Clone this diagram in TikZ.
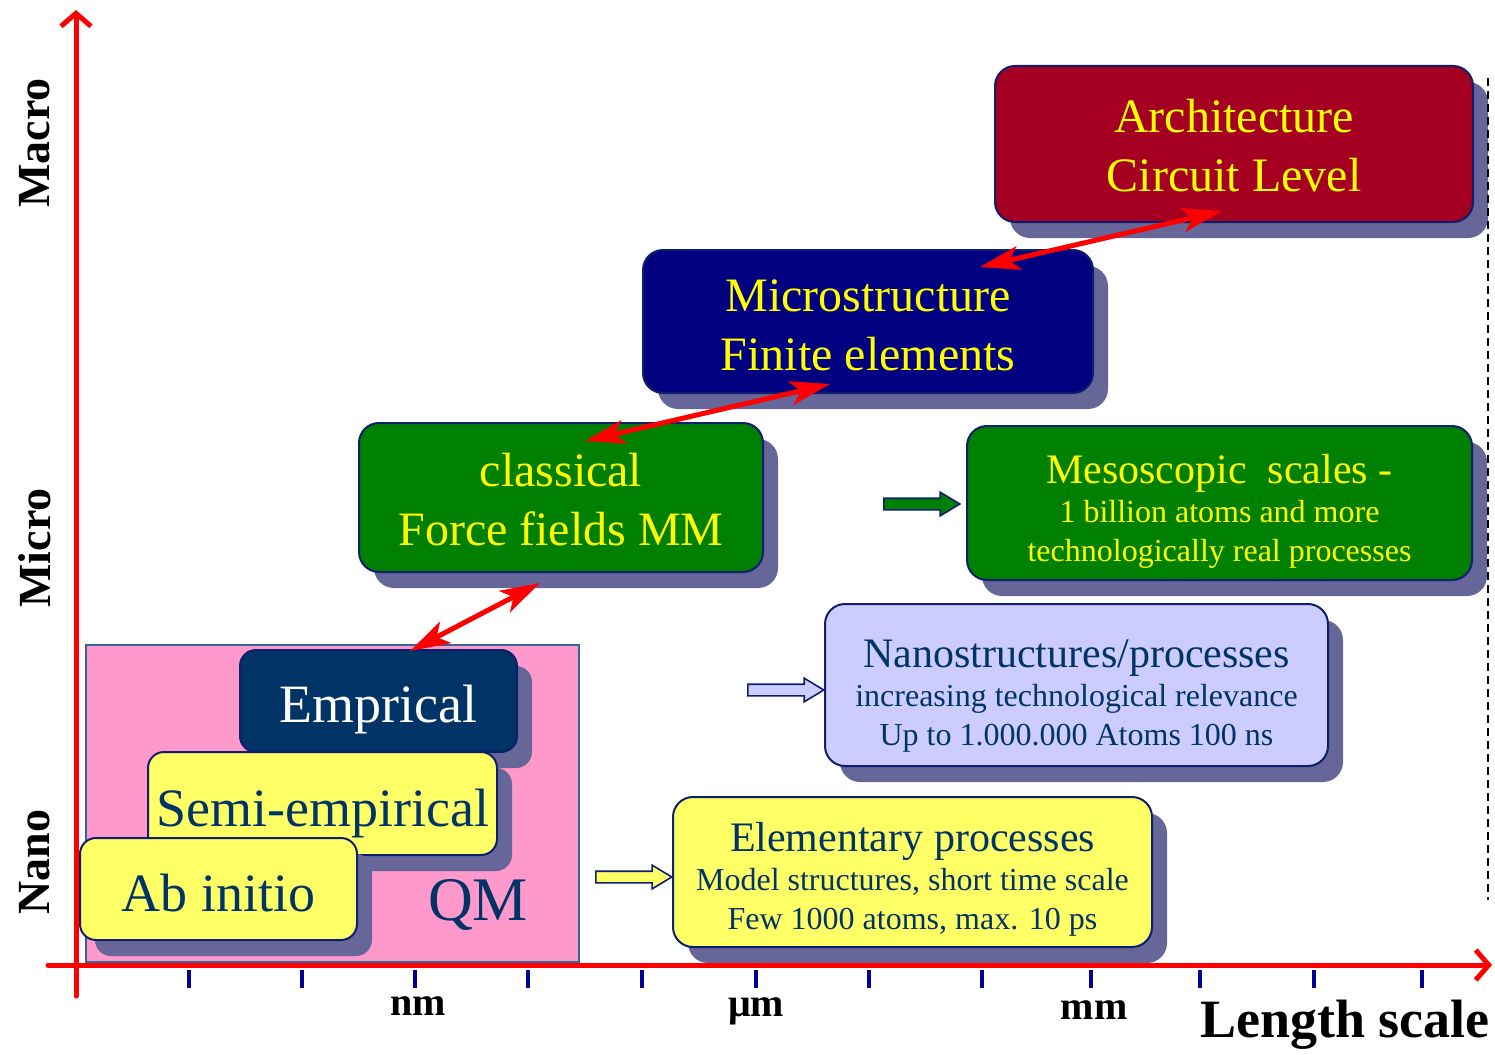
\documentclass[tikz,border=0pt]{standalone}
\usepackage{fontspec}
\setmainfont{Liberation Serif}
\usetikzlibrary{shapes.arrows,shadows,arrows.meta}

\definecolor{archred}{HTML}{A50021}
\definecolor{micronavy}{HTML}{000080}
\definecolor{ffgreen}{HTML}{008000}
\definecolor{lavender}{HTML}{CCCCFF}
\definecolor{paleyellow}{HTML}{FFFF66}
\definecolor{qmpink}{HTML}{FF99CC}
\definecolor{qmedge}{HTML}{336699}
\definecolor{inknavy}{HTML}{003366}
\definecolor{shadowgray}{HTML}{666699}
\definecolor{tickblue}{HTML}{000099}
\definecolor{edgenavy}{HTML}{0D1F6E}
\definecolor{titleyellow}{HTML}{FFFF00}

\newcommand\fsz[2]{\fontsize{#1}{#2}\selectfont}
% invisible strut that sets the height of a line
\newcommand\lift[1]{\rule{0pt}{#1}}

\tikzset{
  panel/.style={rectangle, rounded corners=20pt, draw=edgenavy, line width=2pt,
    align=center, inner sep=0pt,
    drop shadow={shadow xshift=15pt, shadow yshift=-16pt, fill=shadowgray, opacity=1}},
  qmpanel/.style={panel, rounded corners=16pt, minimum width=277pt,
    minimum height=102pt, font=\fsz{54}{60}},
  bigtext/.style={font=\fsz{48}{59}, text=titleyellow},
  smalltext/.style={font=\fsz{32}{39}},
  pointer/.style={single arrow, draw=edgenavy, line width=1.6pt, inner xsep=0pt,
    inner ysep=5pt, minimum height=76pt, single arrow head extend=6pt,
    single arrow tip angle=62},
  redlink/.style={draw=red, line width=5pt,
    {Stealth[length=40pt,width=24pt,inset=10pt]}-{Stealth[length=40pt,width=24pt,inset=10pt]}},
  axis/.style={draw=red, line width=5pt, line cap=round,
    -{Straight Barb[length=13pt,width=30pt]}},
  tick/.style={draw=tickblue, line width=3.5pt},
  axislab/.style={font=\bfseries\fsz{46}{50}, inner sep=0pt},
  scalelab/.style={font=\bfseries\fsz{40}{44}, inner sep=0pt},
}

\begin{document}
\begin{tikzpicture}[x=1pt,y=-1pt]
\useasboundingbox (0,0) rectangle (1495,1054);

% upper-scale boxes
\node[panel, fill=archred, bigtext, minimum width=478pt, minimum height=156pt]
  (arch) at (1234,144) {\lift{37pt}Architecture\\Circuit Level};
\node[panel, fill=micronavy, bigtext, minimum width=450pt, minimum height=143pt]
  (micro) at (868,321.5) {\lift{39pt}Microstructure\\Finite elements};
\node[panel, fill=ffgreen, bigtext, minimum width=404pt, minimum height=149pt]
  (classical) at (561,497.5) {\lift{37pt}classical\\Force fields MM};

% boxes on the right
\node[panel, fill=ffgreen, text=titleyellow, smalltext, minimum width=505pt, minimum height=154pt]
  (meso) at (1219.5,503) {{\fsz{42}{39}\lift{45pt}Mesoscopic\ \ scales -}\\1 billion\ atoms and more\\technologically\ real processes};
\node[panel, fill=lavender, text=inknavy, smalltext, minimum width=503pt, minimum height=162pt]
  (nano) at (1076.5,685) {{\fsz{42}{39}\lift{49pt}Nanostructures/processes}\\increasing\ technological\ relevance\\Up to 1.000.000 Atoms 100 ns};
\node[panel, fill=paleyellow, text=inknavy, smalltext, minimum width=479pt, minimum height=150pt]
  (elem) at (912.5,872) {{\fsz{42}{39}\lift{43pt}Elementary\ processes}\\Model structures, short time scale\\Few 1000 atoms, max. 10 ps};

% quantum-mechanical methods
\node[draw=qmedge, fill=qmpink, line width=1.2pt, minimum width=493pt,
  minimum height=317pt, inner sep=0pt] (qm) at (332.5,803.5) {};
\node[text=inknavy, font=\fsz{62}{70}, inner sep=0pt] (qmlabel) at (478,905) {QM};
\node[qmpanel, fill=inknavy, text=white] (emp) at (378.5,701) {\lift{55pt}Emprical};
\node[qmpanel, fill=paleyellow, text=inknavy, minimum width=349pt, minimum height=103pt]
  (semi) at (322.5,803.5) {\lift{57pt}Semi-empirical};
\node[qmpanel, fill=paleyellow, text=inknavy] (abinit) at (218.5,889) {\lift{45pt}Ab initio};

% block pointers
\node[pointer, fill=ffgreen] (gpointer) at (917,504) {};
\node[pointer, fill=lavender] (lpointer) at (781,690) {};
\node[pointer, fill=paleyellow] (ypointer) at (629,877) {};

% links between the levels
\draw[redlink] ([xshift=112pt,yshift=-18pt]micro.north) -- ([xshift=-12pt,yshift=12pt]arch.south);
\draw[redlink] ([xshift=24pt,yshift=-19pt]classical.north) -- ([xshift=-38pt,yshift=10pt]micro.south);
\draw[redlink] ([xshift=31.5pt,yshift=-2pt]emp.north) -- ([xshift=-21pt,yshift=-10pt]classical.south);

% right-hand boundary
\draw[black, line width=1.6pt, dash pattern=on 8pt off 5pt] (1488,78) -- (1488,900);

% axes and ticks
\draw[axis] (76,996) -- (76,10);
\draw[axis] (48,965) -- (1492,965);
\foreach \x in {189,302,415,528,642,756,869,982,1091,1200,1314,1422}
  \draw[tick] (\x,970) -- (\x,988);

% axis labels
\node[axislab, rotate=90] (macro) at (35,143) {Macro};
\node[axislab, rotate=90] (microlab) at (35,548) {Micro};
\node[axislab, rotate=90] (nanolab) at (35,862) {Nano};
\node[scalelab] (nm) at (418,1006) {nm};
\node[scalelab] (um) at (756,1011) {μm};
\node[scalelab] (mm) at (1094,1010) {mm};
\node[font=\bfseries\fsz{54}{60}, inner sep=0pt] (lscale) at (1345,1025) {Length scale};
\end{tikzpicture}
\end{document}
